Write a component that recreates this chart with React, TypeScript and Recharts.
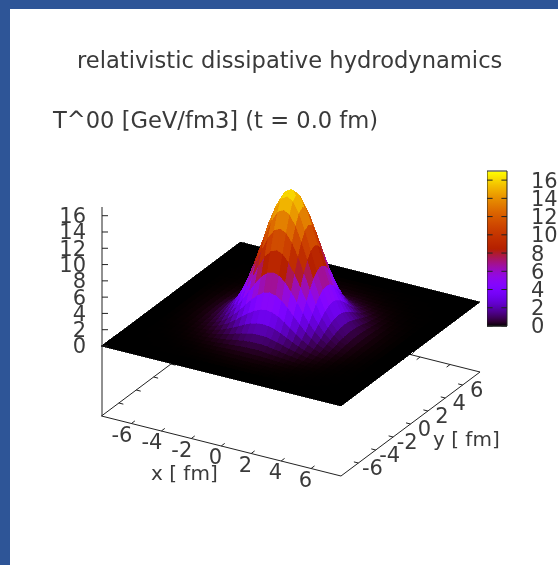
import { ComposedChart, ScatterChart, Scatter, Bar, Line, XAxis, YAxis, ReferenceLine } from "recharts";

const row0 = [16.5];
const row1 = [16.03, 15.57];
const row2 = [14.69, 14.27, 13.07];
const row3 = [12.7, 12.34, 11.3, 9.77];
const row4 = [10.36, 10.06, 9.22, 7.97, 6.5];
const row5 = [7.97, 7.74, 7.09, 6.13, 5.0, 3.85];
const row6 = [5.79, 5.62, 5.15, 4.46, 3.63, 2.8, 2.03];
const row7 = [3.97, 3.85, 3.53, 3.05, 2.49, 1.92, 1.39, 0.95];
const row8 = [2.56, 2.49, 2.28, 1.97, 1.61, 1.24, 0.9, 0.62, 0.4];
const row9 = [1.56, 1.52, 1.39, 1.2, 0.98, 0.75, 0.55, 0.38, 0.24, 0.15];
const row10 = [0.9, 0.87, 0.8, 0.69, 0.56, 0.43, 0.32, 0.22, 0.14, 0.085, 0.049];
const row11 = [0.49, 0.47, 0.43, 0.38, 0.31, 0.24, 0.17, 0.12, 0.076, 0.046, 0.027, 0.014];
const row12 = [0.25, 0.24, 0.22, 0.19, 0.16, 0.12, 0.088, 0.06, 0.039, 0.024, 0.014, 0.0074, 0.0038];
const row13 = [0.12, 0.12, 0.11, 0.093, 0.076, 0.058, 0.042, 0.029, 0.019, 0.011, 0.0066, 0.0036, 0.0018, 0.0009];
const row14 = [0.055, 0.053, 0.049, 0.042, 0.035, 0.027, 0.019, 0.013, 0.0085, 0.0052, 0.003, 0.0016, 0.0008, 0.0004, 0.0002];
const row15 = [0.024, 0.023, 0.021, 0.018, 0.015, 0.011, 0.0083, 0.0057, 0.0037, 0.0023, 0.0013, 0.0007, 0.0004, 0.0002, 0.0001, 0];
const row16 = [0.0096, 0.0093, 0.0085, 0.0074, 0.006, 0.0046, 0.0034, 0.0023, 0.0015, 0.0009, 0.0005, 0.0003, 0.0001, 0.0001, 0, 0, 0];
const rows = [row0, row1, row2, row3, row4, row5, row6, row7, row8, row9, row10, row11, row12, row13, row14, row15, row16];

const xyTicks = [-6, -4, -2, 0, 2, 4, 6];
const zTicks = [0, 2, 4, 6, 8, 10, 12, 14, 16];
const cbMax = 17;

const W = 558;
const H = 565;
const font = "'DejaVu Sans', sans-serif";
const ink = "#3a3a3a";
const floorZ = -8.6;
const zMax = 17.07;
const meshStep = 0.4;
const meshN = 20;

function t00(i: number, j: number) {
    const a = Math.max(Math.abs(i), Math.abs(j));
    const b = Math.min(Math.abs(i), Math.abs(j));
    return rows[a]?.[b] ?? 0;
}

// gnuplot palette rgbformulae 7,5,15
function palette(v: number) {
    const g = Math.min(1, Math.max(0, v / cbMax));
    const r = Math.round(255 * Math.sqrt(g));
    const gr = Math.round(255 * g * g * g);
    const b = Math.round(255 * Math.max(0, Math.sin(2 * Math.PI * g)));
    return `rgb(${r},${gr},${b})`;
}

// view of the box: fixed gnuplot projection, pixels per fm
function project(x: number, y: number, z: number) {
    return {
        sx: 290.75 + x * 14.97 + y * 8.69,
        sy: 324 + x * 3.75 - y * 6.5 - z * 8.14,
    };
}

// pm3d scan order: x strips back to front, each strip walked along y
const cells: any[] = [];
for (let i = -meshN; i < meshN; i++) {
    for (let j = -meshN; j < meshN; j++) {
        const corners = [[i, j], [i + 1, j], [i + 1, j + 1], [i, j + 1]];
        const zs = corners.map(([a, b]) => t00(a, b));
        const pts = corners.map(([a, b], k) => project(a * meshStep, b * meshStep, zs[k]));
        const sx = pts.reduce((s, p) => s + p.sx, 0) / 4;
        const sy = pts.reduce((s, p) => s + p.sy, 0) / 4;
        cells.push({
            sx,
            sy,
            offsets: pts.map((p) => [p.sx - sx, p.sy - sy]),
            color: palette(zs.reduce((s, z) => s + z, 0) / 4),
        });
    }
}

const CellShape = (props: any) => {
    const { cx, cy, payload } = props;
    const points = payload.offsets.map(([dx, dy]: number[]) => `${cx + dx},${cy + dy}`).join(" ");
    return <polygon points={points} fill={payload.color} stroke={payload.color} strokeWidth={0.7} shapeRendering="crispEdges" />;
};

const LabelShape = (props: any) => {
    const { cx, cy, payload } = props;
    return (
        <text x={cx + payload.dx} y={cy + payload.dy} textAnchor={payload.anchor} fontFamily={font} fontSize={21} fill={ink} dominantBaseline="central">
            {payload.text}
        </text>
    );
};

const noShape = () => null;

const boxEdges = [
    [project(-8, -8, floorZ), project(8, -8, floorZ)],
    [project(8, -8, floorZ), project(8, 8, floorZ)],
    [project(8, 8, floorZ), project(-8, 8, floorZ)],
    [project(-8, 8, floorZ), project(-8, -8, floorZ)],
];

const tickSegments = xyTicks.flatMap((t) => [
    [project(t, -8, floorZ), project(t, -7.6, floorZ)],
    [project(t, 8, floorZ), project(t, 7.6, floorZ)],
    [project(-8, t, floorZ), project(-7.7, t, floorZ)],
    [project(8, t, floorZ), project(7.7, t, floorZ)],
]);

const xLabels = xyTicks.map((t) => ({ ...project(t, -8, floorZ), text: String(t), dx: 1, dy: 11, anchor: "end" }));
const yLabels = xyTicks.map((t) => ({ ...project(8, t, floorZ), text: String(t), dx: 14, dy: 5, anchor: "middle" }));

// colorbar: one bar over the whole scale, painted with the palette
const cbBar = [{ level: cbMax / 2, full: 1 }];
const cbStops = Array.from({ length: 35 }, (_, k) => k / 34);

export default function App() {
    return (
        <div style={{ position: "fixed", left: 0, top: 0, width: W, height: H, background: "#fff", overflow: "hidden", filter: "blur(0.45px)" }}>
            <div style={{ position: "absolute", left: 0, top: 0, width: W, height: 9, background: "#2e5597" }} />
            <div style={{ position: "absolute", left: 0, top: 0, width: 10, height: H, background: "#2e5597" }} />
            <div style={{ position: "absolute", left: 77, top: 47, fontFamily: font, fontSize: 22.6, color: ink, whiteSpace: "pre" }}>relativistic dissipative hydrodynamics</div>
            <div style={{ position: "absolute", left: 53, top: 107, fontFamily: font, fontSize: 22.6, color: ink, whiteSpace: "pre" }}>T^00 [GeV/fm3] (t = 0.0 fm)</div>
            <div style={{ position: "absolute", left: 151, top: 461, fontFamily: font, fontSize: 20, color: ink, whiteSpace: "pre" }}>x [ fm]</div>
            <div style={{ position: "absolute", left: 433, top: 427, fontFamily: font, fontSize: 20, color: ink, whiteSpace: "pre" }}>y [ fm]</div>

            <div style={{ position: "absolute", left: 0, top: 0 }}>
                <ScatterChart width={W} height={H} margin={{ top: 0, right: 0, bottom: 0, left: 0 }}>
                    <XAxis type="number" dataKey="sx" domain={[0, W]} hide />
                    <YAxis type="number" dataKey="sy" domain={[0, H]} reversed hide />
                    {boxEdges.map((seg, k) => (
                        <Scatter key={`edge${k}`} data={seg} line={{ stroke: "#222", strokeWidth: 1 }} shape={noShape} isAnimationActive={false} />
                    ))}
                    {tickSegments.map((seg, k) => (
                        <Scatter key={`tick${k}`} data={seg} line={{ stroke: "#222", strokeWidth: 1 }} shape={noShape} isAnimationActive={false} />
                    ))}
                    <Scatter data={cells} shape={CellShape} isAnimationActive={false} />
                    <Scatter data={xLabels} shape={LabelShape} isAnimationActive={false} />
                    <Scatter data={yLabels} shape={LabelShape} isAnimationActive={false} />
                </ScatterChart>
            </div>

            {/* z axis */}
            <div style={{ position: "absolute", left: 0, top: 195 }}>
                <ComposedChart width={120} height={230} data={[{ z: 0 }]} margin={{ top: 12, right: 18, bottom: 9, left: 0 }}>
                    <XAxis hide />
                    <YAxis
                        width={102}
                        type="number"
                        domain={[floorZ, zMax]}
                        ticks={zTicks}
                        interval={0}
                        tickSize={-6}
                        tickMargin={22}
                        stroke="#222"
                        tick={{ fontFamily: font, fontSize: 21, fill: ink }}
                    />
                    <Line dataKey="z" stroke="none" dot={false} isAnimationActive={false} />
                </ComposedChart>
            </div>

            {/* colorbar */}
            <div style={{ position: "absolute", left: 487, top: 159 }}>
                <ComposedChart width={71} height={179} layout="vertical" data={cbBar} margin={{ top: 12, right: 0, bottom: 12, left: 0 }}>
                    <defs>
                        <linearGradient id="cbGradient" x1="0" y1="1" x2="0" y2="0">
                            {cbStops.map((s) => (
                                <stop key={s} offset={s} stopColor={palette(s * cbMax)} />
                            ))}
                        </linearGradient>
                    </defs>
                    <XAxis type="number" domain={[0, 1]} hide />
                    <YAxis
                        yAxisId="cb"
                        orientation="right"
                        width={51}
                        type="number"
                        dataKey="level"
                        domain={[0, cbMax]}
                        reversed
                        ticks={zTicks}
                        interval={0}
                        axisLine={false}
                        tickLine={false}
                        tickSize={0}
                        tickMargin={24}
                        tick={{ fontFamily: font, fontSize: 21, fill: ink }}
                    />
                    <Bar yAxisId="cb" dataKey="full" barSize={155} fill="url(#cbGradient)" isAnimationActive={false} />
                    {zTicks.map((t) => (
                        <ReferenceLine key={`l${t}`} yAxisId="cb" segment={[{ x: 0, y: t }, { x: 0.28, y: t }]} stroke="#222" />
                    ))}
                    {zTicks.map((t) => (
                        <ReferenceLine key={`r${t}`} yAxisId="cb" segment={[{ x: 0.72, y: t }, { x: 1, y: t }]} stroke="#222" />
                    ))}
                    <ReferenceLine yAxisId="cb" segment={[{ x: 0, y: 0 }, { x: 1, y: 0 }]} stroke="#222" />
                    <ReferenceLine yAxisId="cb" segment={[{ x: 0, y: cbMax }, { x: 1, y: cbMax }]} stroke="#222" />
                    <ReferenceLine yAxisId="cb" segment={[{ x: 0, y: 0 }, { x: 0, y: cbMax }]} stroke="#222" />
                    <ReferenceLine yAxisId="cb" segment={[{ x: 1, y: 0 }, { x: 1, y: cbMax }]} stroke="#222" />
                </ComposedChart>
            </div>
        </div>
    );
}
